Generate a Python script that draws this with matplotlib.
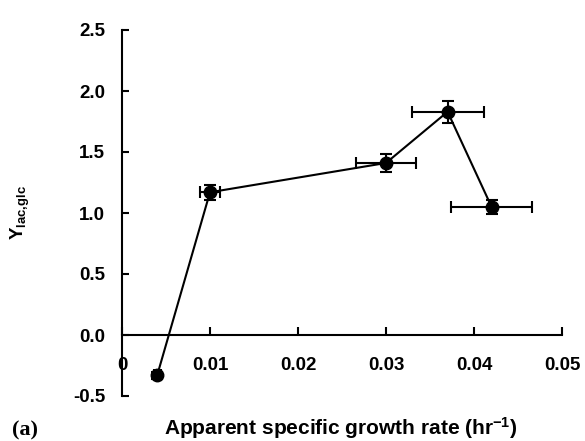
import matplotlib
matplotlib.use('Agg')
import matplotlib.pyplot as plt

plt.rcParams['font.family'] = ['Liberation Sans', 'DejaVu Sans']
plt.rcParams['font.weight'] = 'bold'
plt.rcParams['mathtext.fontset'] = 'custom'
plt.rcParams['mathtext.rm'] = 'Liberation Sans:bold'
plt.rcParams['mathtext.bf'] = 'Liberation Sans:bold'
plt.rcParams['mathtext.it'] = 'Liberation Sans:bold'
plt.rcParams['mathtext.default'] = 'bf'

# Apparent specific growth rate (hr^-1) and lactate/glucose yield
growth_rate = [0.004, 0.010, 0.030, 0.037, 0.042]
growth_rate_err = [0.0004, 0.0011, 0.0034, 0.0041, 0.0046]
yield_lac_glc = [-0.33, 1.17, 1.41, 1.83, 1.05]
yield_err = [0.03, 0.06, 0.07, 0.09, 0.055]

x_ticks = [0, 0.01, 0.02, 0.03, 0.04, 0.05]
x_tick_labels = ['0', '0.01', '0.02', '0.03', '0.04', '0.05']
y_ticks = [-0.5, 0.0, 0.5, 1.0, 1.5, 2.0, 2.5]
y_tick_labels = ['-0.5', '0.0', '0.5', '1.0', '1.5', '2.0', '2.5']

W, H = 585, 441
fig = plt.figure(figsize=(W / 100, H / 100), dpi=100)
ax = fig.add_axes([122 / W, 45 / H, 440 / W, 366 / H])

ax.errorbar(growth_rate, yield_lac_glc, xerr=growth_rate_err, yerr=yield_err,
            fmt='-o', color='black', ms=9, lw=1.5, elinewidth=1.5,
            capsize=4.5, capthick=1.5, clip_on=False, zorder=3)

ax.set_xlim(0, 0.05)
ax.set_ylim(-0.5, 2.5)

for side in ('top', 'right'):
    ax.spines[side].set_visible(False)
ax.spines['bottom'].set_position(('data', 0))
for side in ('left', 'bottom'):
    ax.spines[side].set_linewidth(1.5)

ax.set_xticks(x_ticks)
ax.set_xticklabels(x_tick_labels)
ax.set_yticks(y_ticks)
ax.set_yticklabels(y_tick_labels)
ax.tick_params(axis='x', direction='in', length=6, width=1.5, pad=16,
               labelsize=13.5)
ax.tick_params(axis='y', direction='in', length=5, width=1.5, pad=12,
               labelsize=13.5)
for lbl in ax.get_xticklabels() + ax.get_yticklabels():
    lbl.set_fontweight('bold')

fig.text(20 / W, 1 - 212 / H, r'Y$_{\mathbf{lac{,}glc}}$', rotation=90,
         ha='center', va='center', fontsize=13.5, fontweight='bold')
fig.text(341 / W, (H - 435) / H, r'Apparent specific growth rate (hr$^{-1}$)',
         ha='center', va='baseline', fontsize=15, fontweight='bold')
fig.text(12 / W, (H - 435) / H, '(a)', ha='left', va='baseline',
         fontsize=16, fontweight='bold', family='Liberation Serif')

fig.savefig('out.png', dpi=100)
